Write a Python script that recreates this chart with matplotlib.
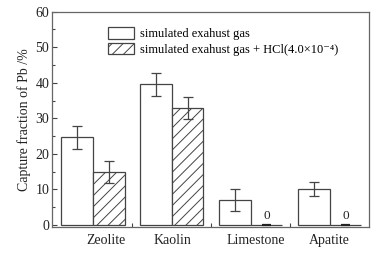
import numpy as np
import matplotlib
matplotlib.use("Agg")
import matplotlib.pyplot as plt

plt.rcParams['font.family'] = ['Liberation Serif', 'DejaVu Serif']
plt.rcParams['hatch.linewidth'] = 0.7

sorbents = ["Zeolite", "Kaolin", "Limestone", "Apatite"]
plain = [24.7, 39.6, 6.9, 10.0]
plain_err = [3.2, 3.2, 3.1, 2.0]
hcl = [14.9, 33.0, 0.0, 0.0]
hcl_err = [3.2, 3.1, 0.0, 0.0]
label_plain = "simulated exahust gas"
label_hcl = "simulated exahust gas + HCl(4.0×10⁻⁴)"

edge = "#444444"
txt = "#222222"

fig = plt.figure(figsize=(3.84, 2.58), dpi=100)
ax = fig.add_axes([0.1354, 0.1213, 0.8256, 0.8334])

x = np.arange(len(sorbents))
w = 0.4
b1 = ax.bar(x - w / 2, plain, w, color="white", edgecolor=edge, linewidth=0.9,
            label=label_plain)
b2 = ax.bar(x + w / 2, hcl, w, color="white", edgecolor=edge, linewidth=0.9,
            hatch="///", label=label_hcl)

hcl_a = np.array(hcl)
nz = hcl_a > 0
ax.errorbar(x - w / 2, plain, yerr=plain_err, fmt="none", ecolor=edge,
            elinewidth=0.9, capsize=3.6, capthick=0.9)
ax.errorbar((x + w / 2)[nz], hcl_a[nz], yerr=np.array(hcl_err)[nz], fmt="none",
            ecolor=edge, elinewidth=0.9, capsize=3.6, capthick=0.9)

# zero values: short dash on the baseline with a "0" above
for xi, v in zip(x + w / 2, hcl):
    if v == 0:
        ax.plot([xi - 0.06, xi + 0.06], [0.05, 0.05], color="#222222", lw=1.6,
                solid_capstyle="butt")
        ax.text(xi, 0.9, "0", ha="center", va="bottom", fontsize=9.5, color=txt)

ax.set_xlim(-0.52, 3.5)
ax.set_ylim(-0.5, 60)
ax.set_yticks(np.arange(0, 61, 10))
ax.set_yticks(np.arange(5, 60, 10), minor=True)
ax.tick_params(axis="y", which="major", direction="in", length=3.5, width=0.8,
               color=edge, labelsize=10, labelcolor=txt, pad=2)
ax.tick_params(axis="y", which="minor", direction="in", length=2.5, width=0.8,
               color=edge)

ax.set_xticks([0.5, 1.5, 2.5])
ax.set_xticklabels([])
ax.tick_params(axis="x", which="major", direction="in", length=3, width=0.8,
               color=edge)
label_shift = [0.16, 0.01, 0.06, -0.01]
ax.set_xticks(x + np.array(label_shift), minor=True)
ax.set_xticklabels(sorbents, minor=True)
ax.tick_params(axis="x", which="minor", length=0, labelsize=10,
               labelcolor=txt, pad=5)

for s in ax.spines.values():
    s.set_color("#666666")
    s.set_linewidth(0.9)

ax.set_ylabel("Capture fraction of Pb /%", fontsize=10, color=txt, labelpad=3)

ax.legend(handles=[b1, b2], loc="upper left", bbox_to_anchor=(0.16, 0.95),
          frameon=False, fontsize=9, handlelength=2.1, handleheight=1.0,
          handletextpad=0.5, labelspacing=0.2, borderaxespad=0)

fig.savefig("out.png", dpi=100)
